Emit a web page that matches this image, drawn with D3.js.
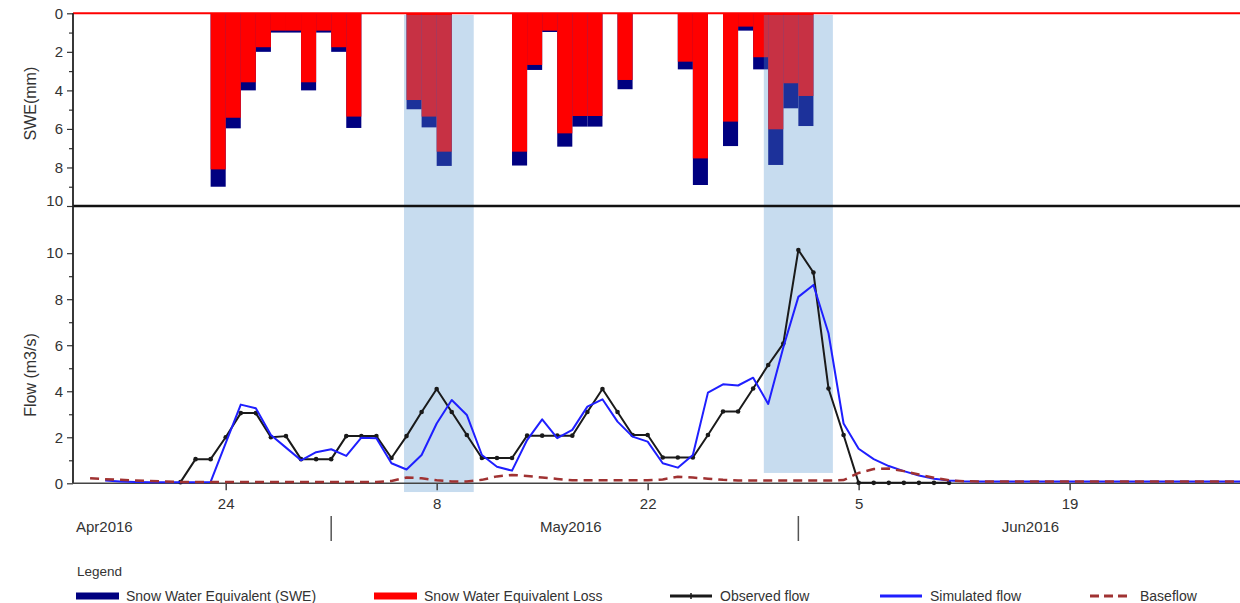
<!DOCTYPE html>
<html>
<head>
<meta charset="utf-8">
<script src="https://cdn.jsdelivr.net/npm/d3@7"></script>
<style>
  body { margin: 0; background: #fff; }
  svg text { font-family: "Liberation Sans", Arial, sans-serif; fill: #333; }
</style>
</head>
<body>
<svg id="chart" width="1240" height="603"></svg>
<script>
// ---- Snow water equivalent (mm), daily bars ----
const sweDays = [
  "2016-04-23","2016-04-24","2016-04-25","2016-04-26","2016-04-27","2016-04-28","2016-04-29",
  "2016-04-30","2016-05-01","2016-05-02","2016-05-06","2016-05-07","2016-05-08","2016-05-13",
  "2016-05-14","2016-05-15","2016-05-16","2016-05-17","2016-05-18","2016-05-20","2016-05-24",
  "2016-05-25","2016-05-27","2016-05-28","2016-05-29","2016-05-30","2016-05-31","2016-06-01"
];
const sweTotal = [9.0, 5.97, 4.0, 2.0, 1.0, 1.0, 4.0, 1.0, 2.0, 5.95, 4.98, 5.92, 7.92, 7.9,
  2.94, 0.97, 6.92, 5.88, 5.88, 3.94, 2.91, 8.91, 6.89, 0.9, 2.91, 7.87, 4.93, 5.85];
const sweLoss = [8.1, 5.42, 3.58, 1.76, 0.9, 0.9, 3.58, 0.9, 1.76, 5.36, 4.5, 5.36, 7.18, 7.18,
  2.68, 0.9, 6.23, 5.33, 5.33, 3.46, 2.51, 7.53, 5.62, 0.69, 2.28, 6.02, 3.63, 4.29];

// ---- Flow (m3/s), daily series ----
const observedStart = "2016-04-21";
const observedFlow = [0.05, 1.05, 1.05, 2.0, 3.05, 3.05, 2.0, 2.05, 1.05, 1.05, 1.05, 2.05, 2.05,
  2.05, 1.1, 2.05, 3.1, 4.1, 3.1, 2.1, 1.1, 1.1, 1.1, 2.07, 2.07, 2.07, 2.07, 3.1, 4.1, 3.1, 2.1,
  2.1, 1.12, 1.12, 1.12, 2.1, 3.12, 3.12, 4.12, 5.14, 6.07, 10.14, 9.16, 4.12, 2.1, 0.02, 0.02,
  0.02, 0.02, 0.02, 0.02, 0.02];

const simulatedStart = "2016-04-16";
const simulatedFlow = [0.12, 0.08, 0.06, 0.05, 0.05, 0.05, 0.05, 0.06, 1.75, 3.42, 3.26, 2.1,
  1.55, 1.0, 1.35, 1.48, 1.19, 1.98, 1.96, 0.87, 0.6, 1.23, 2.6, 3.62, 2.97, 1.23, 0.72, 0.55,
  1.88, 2.78, 1.96, 2.32, 3.33, 3.65, 2.68, 2.03, 1.81, 0.87, 0.68, 1.23, 3.94, 4.3, 4.25, 4.59,
  3.45, 5.9, 8.1, 8.62, 6.52, 2.6, 1.5, 1.05, 0.75, 0.53, 0.34, 0.2, 0.12, 0.09, 0.08, 0.08,
  0.08, 0.08, 0.08, 0.08, 0.08, 0.08, 0.08, 0.08, 0.08, 0.08, 0.08, 0.08, 0.08, 0.08, 0.08,
  0.08, 0.08];

const baseflowStart = "2016-04-15";
const baseflow = [0.22, 0.18, 0.15, 0.12, 0.1, 0.08, 0.06, 0.06, 0.06, 0.06, 0.06, 0.06, 0.06,
  0.06, 0.06, 0.06, 0.06, 0.06, 0.06, 0.06, 0.1, 0.25, 0.22, 0.13, 0.08, 0.08, 0.15, 0.3, 0.36,
  0.32, 0.25, 0.19, 0.13, 0.13, 0.13, 0.13, 0.13, 0.13, 0.17, 0.28, 0.25, 0.2, 0.15, 0.12, 0.12,
  0.12, 0.12, 0.12, 0.12, 0.12, 0.14, 0.45, 0.62, 0.64, 0.53, 0.38, 0.24, 0.13, 0.09, 0.08, 0.08,
  0.08, 0.08, 0.08, 0.08, 0.08, 0.08, 0.08, 0.08, 0.08, 0.08, 0.08, 0.08, 0.08, 0.08, 0.08, 0.08,
  0.08];

// ---- Highlighted event periods ----
const eventPeriods = [
  ["2016-05-05T20:00Z", "2016-05-10T11:00Z"],
  ["2016-05-29T17:00Z", "2016-06-03T07:00Z"]
];

// ---- Axis ticks ----
const dayTicks = ["2016-04-24", "2016-05-08", "2016-05-22", "2016-06-05", "2016-06-19"];
const sweTicks = [0, 2, 4, 6, 8, 10];
const flowTicks = [0, 2, 4, 6, 8, 10];

// ---- Legend ----
const legendItems = [
  { label: "Snow Water Equivalent (SWE)", kind: "bar", color: "#000080" },
  { label: "Snow Water Equivalent Loss", kind: "bar", color: "#ff0000" },
  { label: "Observed flow", kind: "marker", color: "#1a1a1a" },
  { label: "Simulated flow", kind: "line", color: "#1f1fff" },
  { label: "Baseflow", kind: "dash", color: "#a03232" }
];

// ---------------------------------------------------------------
const svg = d3.select("#chart");
const parse = s => new Date(s.length === 10 ? s + "T00:00:00Z" : s);
const seriesFrom = (start, values) =>
  values.map((v, i) => ({ date: d3.utcDay.offset(parse(start), i), value: v }));

const axisLeftX = 73, plotRight = 1240;
const domainStart = Date.UTC(2016, 3, 14), domainEnd = Date.UTC(2016, 6, 1);
const x = d3.scaleUtc().domain([domainStart, domainEnd]).range([75, 75 + 78 * 15.07]);

const ySwe = d3.scaleLinear().domain([0, 10]).range([13.3, 206]);
const yFlow = d3.scaleLinear().domain([0, 12.05]).range([483.3, 206]);

// SWE bars: full SWE depth in navy, loss portion overlaid in red
const bars = sweDays.map((d, i) => ({ day: parse(d), total: sweTotal[i], loss: sweLoss[i] }));
const barG = svg.append("g");
barG.selectAll("rect.swe").data(bars).join("rect")
  .attr("class", "swe")
  .attr("x", d => x(d.day))
  .attr("width", d => x(d3.utcDay.offset(d.day, 1)) - x(d.day))
  .attr("y", ySwe(0))
  .attr("height", d => ySwe(d.total) - ySwe(0))
  .attr("fill", "#000080");
barG.selectAll("rect.loss").data(bars).join("rect")
  .attr("class", "loss")
  .attr("x", d => x(d.day))
  .attr("width", d => x(d3.utcDay.offset(d.day, 1)) - x(d.day))
  .attr("y", ySwe(0))
  .attr("height", d => ySwe(d.loss) - ySwe(0))
  .attr("fill", "#ff0000");

// Event shading spanning both panels
const shadeFloor = [-0.38, 0.45];
svg.append("g").selectAll("rect").data(eventPeriods).join("rect")
  .attr("x", d => x(parse(d[0])))
  .attr("width", d => x(parse(d[1])) - x(parse(d[0])))
  .attr("y", 15)
  .attr("height", (d, i) => yFlow(shadeFloor[i]) - 15)
  .attr("fill", "rgb(84,150,207)")
  .attr("fill-opacity", 0.33);

// Zero line of the SWE panel and the panel separator
svg.append("line")
  .attr("x1", axisLeftX).attr("x2", plotRight)
  .attr("y1", ySwe(0)).attr("y2", ySwe(0))
  .attr("stroke", "#ff0000").attr("stroke-width", 2);
svg.append("line")
  .attr("x1", axisLeftX).attr("x2", plotRight)
  .attr("y1", 206).attr("y2", 206)
  .attr("stroke", "#111").attr("stroke-width", 2.5);

// Y axes (major labelled ticks plus unlabelled minor ticks)
function drawYAxis(scale, ticks, top, bottom) {
  const g = svg.append("g").attr("transform", `translate(${axisLeftX},0)`);
  const minor = d3.range(1, 10, 2);
  g.append("g").call(d3.axisLeft(scale).tickValues(minor).tickSize(4).tickFormat(""))
    .call(a => a.select(".domain").remove())
    .call(a => a.selectAll("line").attr("stroke", "#333").attr("stroke-width", 1.2));
  const major = g.append("g").call(d3.axisLeft(scale).tickValues(ticks).tickSize(6).tickPadding(4))
    .call(a => a.select(".domain").remove());
  major.selectAll("line").attr("stroke", "#333").attr("stroke-width", 1.2);
  major.selectAll("text").attr("font-size", 15).attr("font-family", null).style("fill", "#333");
  g.append("line").attr("x1", 0).attr("x2", 0).attr("y1", top).attr("y2", bottom)
    .attr("stroke", "#222").attr("stroke-width", 1.8);
  return major;
}
const sweAxis = drawYAxis(ySwe, sweTicks, ySwe(0), 206);
sweAxis.selectAll(".tick").filter(d => d === 10).select("text").attr("dy", "-0.05em");
drawYAxis(yFlow, flowTicks, 206, yFlow(0));

// Axis titles
svg.append("text")
  .attr("transform", `translate(36,${(ySwe(0) + 206) / 2 - 6}) rotate(-90)`)
  .attr("text-anchor", "middle").attr("font-size", 16).text("SWE(mm)");
svg.append("text")
  .attr("transform", "translate(36,375) rotate(-90)")
  .attr("text-anchor", "middle").attr("font-size", 16).text("Flow (m3/s)");

// X axis: day ticks
const xAxisG = svg.append("g").attr("transform", `translate(0,${yFlow(0)})`)
  .call(d3.axisBottom(x).tickValues(dayTicks.map(parse))
    .tickFormat(d3.utcFormat("%-d")).tickSize(7).tickPadding(8))
  .call(a => a.select(".domain").remove());
xAxisG.selectAll("line").attr("stroke", "#444").attr("stroke-width", 1.5);
xAxisG.selectAll("text").attr("font-size", 15).attr("font-family", null).style("fill", "#333");
svg.append("line")
  .attr("x1", axisLeftX).attr("x2", plotRight)
  .attr("y1", yFlow(0)).attr("y2", yFlow(0))
  .attr("stroke", "#444").attr("stroke-width", 1.6);

// Month labels and separators
const months = d3.utcMonths(d3.utcMonth.floor(new Date(domainStart)), new Date(domainEnd));
const monthFmt = d3.utcFormat("%b%Y");
months.forEach(m => {
  const next = d3.utcMonth.offset(m, 1);
  const label = svg.append("text").attr("y", 532).attr("font-size", 15).text(monthFmt(m));
  if (m < domainStart) {
    label.attr("x", axisLeftX + 3).attr("text-anchor", "start");
  } else {
    label.attr("x", (x(m) + x(next)) / 2 + 6).attr("text-anchor", "middle");
    svg.append("line").attr("x1", x(m)).attr("x2", x(m)).attr("y1", 516).attr("y2", 541)
      .attr("stroke", "#555").attr("stroke-width", 1.5);
  }
});

// Flow lines
const lineGen = d3.line().x(d => x(d.date)).y(d => yFlow(d.value));
const observed = seriesFrom(observedStart, observedFlow);
const simulated = seriesFrom(simulatedStart, simulatedFlow);
const base = seriesFrom(baseflowStart, baseflow);

const flowG = svg.append("g");
flowG.append("path").datum(observed).attr("d", lineGen)
  .attr("fill", "none").attr("stroke", "#1a1a1a").attr("stroke-width", 2)
  .attr("stroke-linejoin", "round");
flowG.selectAll("circle").data(observed).join("circle")
  .attr("cx", d => x(d.date)).attr("cy", d => yFlow(d.value)).attr("r", 2.3)
  .attr("fill", "#1a1a1a");
flowG.append("path").datum(simulated).attr("d", lineGen)
  .attr("fill", "none").attr("stroke", "#1f1fff").attr("stroke-width", 2)
  .attr("stroke-linejoin", "round");
flowG.append("path").datum(base).attr("d", lineGen)
  .attr("fill", "none").attr("stroke", "#a03232").attr("stroke-width", 2.5)
  .attr("stroke-dasharray", "9,6");

// Legend
svg.append("text").attr("x", 77).attr("y", 576).attr("font-size", 13.5).text("Legend");
const legendX = [76, 374, 670, 880, 1090];
const legendRowY = 596;
legendItems.forEach((item, i) => {
  const g = svg.append("g").attr("transform", `translate(${legendX[i]},${legendRowY})`);
  if (item.kind === "bar") {
    g.append("rect").attr("x", 0).attr("y", -3.5).attr("width", 43).attr("height", 7)
      .attr("fill", item.color);
  } else {
    const ln = g.append("line").attr("x1", 0).attr("x2", 42).attr("y1", 0).attr("y2", 0)
      .attr("stroke", item.color).attr("stroke-width", 3);
    if (item.kind === "dash") ln.attr("stroke-dasharray", "9,5");
    if (item.kind === "marker") {
      g.append("line").attr("x1", 21).attr("x2", 21).attr("y1", -3).attr("y2", 3)
        .attr("stroke", item.color).attr("stroke-width", 1.5);
    }
  }
  g.append("text").attr("x", i < 2 ? 50 : 50).attr("y", 5).attr("font-size", 14)
    .text(item.label);
});
</script>
</body>
</html>
